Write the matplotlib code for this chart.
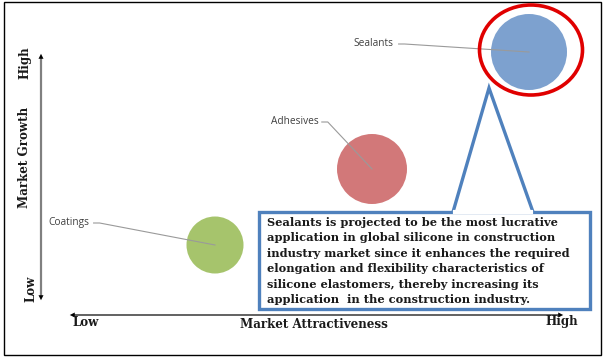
"""Market attractiveness vs growth bubble chart for silicone in construction."""

import matplotlib

matplotlib.use("Agg")
import matplotlib.pyplot as plt
from matplotlib.patches import Circle, Ellipse, Rectangle, Polygon

# bubbles, in pixel-like canvas coordinates (x right, y down)
segments = ["Coatings", "Adhesives", "Sealants"]
seg_x = [215, 372, 529]
seg_y = [245, 169, 52]
seg_r = [28.5, 35, 38]
seg_colors = ["#A6C46C", "#D27879", "#7DA1CF"]
label_x = [48, 271, 353]
label_y = [223, 122, 44]

note = (
    "Sealants is projected to be the most lucrative\n"
    "application in global silicone in construction\n"
    "industry market since it enhances the required\n"
    "elongation and flexibility characteristics of\n"
    "silicone elastomers, thereby increasing its\n"
    "application  in the construction industry."
)

W, H = 604, 359
SERIF = ["DejaVu Serif"]
TEXT = "#1a1a1a"
BLUE = "#4F81BD"

fig = plt.figure(figsize=(W / 100, H / 100), dpi=100)
ax = fig.add_axes([0, 0, 1, 1])
ax.set_xlim(0, W)
ax.set_ylim(H, 0)
ax.axis("off")

# outer frame
ax.add_patch(Rectangle((3.5, 1.5), 597, 353, fill=False, ec="#000000", lw=1.0))

# axes arrows
ax.annotate("", xy=(41, 51), xytext=(41, 180),
            arrowprops=dict(arrowstyle="-|>", color="#000000", lw=0, mutation_scale=9))
ax.annotate("", xy=(41, 303), xytext=(41, 180),
            arrowprops=dict(arrowstyle="-|>", color="#000000", lw=0, mutation_scale=9))
ax.plot([41, 41], [57, 297], color="#808080", lw=1.6, solid_capstyle="butt")
ax.annotate("", xy=(67, 315), xytext=(300, 315),
            arrowprops=dict(arrowstyle="-|>", color="#000000", lw=0, mutation_scale=9))
ax.annotate("", xy=(566, 315), xytext=(300, 315),
            arrowprops=dict(arrowstyle="-|>", color="#000000", lw=0, mutation_scale=9))
ax.plot([73, 560], [315, 315], color="#555555", lw=1.3, solid_capstyle="butt")

AX_FS = 8.6
ax.text(25, 63, "High", rotation=90, ha="center", va="center",
        fontsize=AX_FS, fontweight="bold", family=SERIF, color=TEXT)
ax.text(25, 157, "Market Growth", rotation=90, ha="center", va="center",
        fontsize=AX_FS, fontweight="bold", family=SERIF, color=TEXT)
ax.text(31, 289, "Low", rotation=90, ha="center", va="center",
        fontsize=AX_FS, fontweight="bold", family=SERIF, color=TEXT)
ax.text(86, 323, "Low", ha="center", va="center",
        fontsize=AX_FS, fontweight="bold", family=SERIF, color=TEXT)
ax.text(314, 324, "Market Attractiveness", ha="center", va="center",
        fontsize=AX_FS, fontweight="bold", family=SERIF, color=TEXT)
ax.text(562, 322, "High", ha="center", va="center",
        fontsize=AX_FS, fontweight="bold", family=SERIF, color=TEXT)

# bubbles with leader lines
for name, x, y, r, c, lx, ly in zip(segments, seg_x, seg_y, seg_r, seg_colors, label_x, label_y):
    ax.add_patch(Circle((x, y), r, fc=c, ec="none", zorder=2))
    t = ax.text(lx, ly, name, ha="left", va="center", fontsize=7.3,
                family=["Open Sans", "DejaVu Sans"], color="#404040", zorder=4)
    tx = lx + len(name) * 5.2 + 4
    ax.plot([tx, tx + 6, x], [ly, ly, y], color="#9a9a9a", lw=0.8, zorder=3)

# highlight ring around the leader
ax.add_patch(Ellipse((531, 50), 103, 90, fill=False, ec="#E00000", lw=2.6, zorder=3))

# callout box with pointer
ax.add_patch(Rectangle((259, 212), 331, 97, fc="white", ec=BLUE, lw=2.4, zorder=4))
ax.add_patch(Polygon([(453, 212), (489, 88), (533, 212)], closed=False,
                     fc="white", ec=BLUE, lw=2.4, zorder=5, joinstyle="miter"))
ax.plot([455, 531], [212, 212], color="white", lw=3, zorder=6)
ax.text(267, 217, note, ha="left", va="top", fontsize=8.2, fontweight="bold",
        family=SERIF, color=TEXT, linespacing=1.49, zorder=7)

fig.savefig("out.png", dpi=100, facecolor="white")
